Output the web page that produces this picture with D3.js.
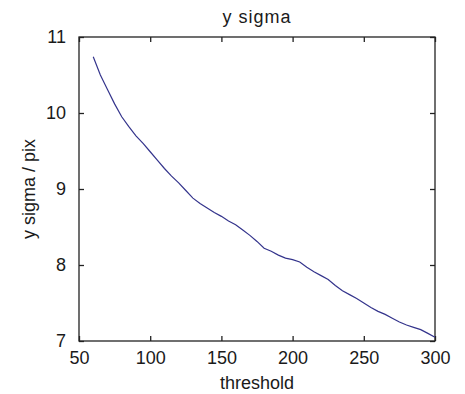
<!DOCTYPE html>
<html>
<head>
<meta charset="utf-8">
<script src="https://cdn.jsdelivr.net/npm/d3@7"></script>
<style>
html,body{margin:0;padding:0;background:#fff;}
svg{display:block;}
text{font-family:"Liberation Sans",Arial,sans-serif;fill:#1a1a1a;}
</style>
</head>
<body>
<svg id="chart" width="465" height="394"></svg>
<script>
const thresholds = [60,65,70,75,80,85,90,95,100,105,110,115,120,125,130,135,140,145,150,155,160,165,170,175,180,185,190,195,200,205,210,215,220,225,230,235,240,245,250,255,260,265,270,275,280,285,290,295,300];
const ySigma = [10.74,10.50,10.31,10.12,9.95,9.82,9.70,9.60,9.49,9.38,9.27,9.17,9.08,8.98,8.88,8.81,8.75,8.69,8.64,8.58,8.53,8.46,8.39,8.31,8.22,8.18,8.13,8.09,8.07,8.04,7.97,7.91,7.86,7.81,7.73,7.66,7.61,7.56,7.50,7.44,7.39,7.35,7.30,7.25,7.21,7.18,7.15,7.10,7.05];
const xTicks = [50,100,150,200,250,300];
const yTicks = [7,8,9,10,11];
const titleText = "y sigma";
const xLabel = "threshold";
const yLabel = "y sigma / pix";

const svg = d3.select("#chart");
const L = 79, R = 435, T = 37, B = 341;
const x = d3.scaleLinear().domain([50,300]).range([L,R]);
const y = d3.scaleLinear().domain([7,11]).range([B,T]);
const tickLen = 5;
const fmt = d3.format("d");

// box
svg.append("rect").attr("x",L).attr("y",T).attr("width",R-L).attr("height",B-T)
  .attr("fill","#fff").attr("stroke","#222").attr("stroke-width",1.3);

// axes with inward ticks
const gB = svg.append("g").attr("transform",`translate(0,${B})`)
  .call(d3.axisBottom(x).tickValues(xTicks).tickFormat(fmt).tickSizeInner(-tickLen).tickSizeOuter(0).tickPadding(tickLen+5));
const gT = svg.append("g").attr("transform",`translate(0,${T})`)
  .call(d3.axisTop(x).tickValues(xTicks).tickSizeInner(-tickLen).tickSizeOuter(0).tickFormat(""));
const gL = svg.append("g").attr("transform",`translate(${L},0)`)
  .call(d3.axisLeft(y).tickValues(yTicks).tickFormat(fmt).tickSizeInner(-tickLen).tickSizeOuter(0).tickPadding(tickLen+8));
const gR = svg.append("g").attr("transform",`translate(${R},0)`)
  .call(d3.axisRight(y).tickValues(yTicks).tickSizeInner(-tickLen).tickSizeOuter(0).tickFormat(""));
[gB,gT,gL,gR].forEach(g=>{
  g.select(".domain").remove();
  g.selectAll(".tick line").attr("stroke","#222").attr("stroke-width",1.3);
  g.selectAll(".tick text").attr("font-size",18).attr("fill","#1a1a1a")
   .style("font-family","'Liberation Sans',Arial,sans-serif");
});

// line
svg.append("path").datum(thresholds.map((t,i)=>[t,ySigma[i]]))
  .attr("fill","none").attr("stroke","#34348c").attr("stroke-width",1.2)
  .attr("d", d3.line().x(d=>x(d[0])).y(d=>y(d[1])));

// title and labels
svg.append("text").attr("x",(L+R)/2).attr("y",23).attr("text-anchor","middle")
  .attr("font-size",18).attr("letter-spacing","1px").text(titleText);
svg.append("text").attr("x",(L+R)/2).attr("y",389).attr("text-anchor","middle")
  .attr("font-size",18).text(xLabel);
svg.append("text").attr("transform",`translate(35,${(T+B)/2}) rotate(-90)`).attr("text-anchor","middle")
  .attr("font-size",18).text(yLabel);
</script>
</body>
</html>
